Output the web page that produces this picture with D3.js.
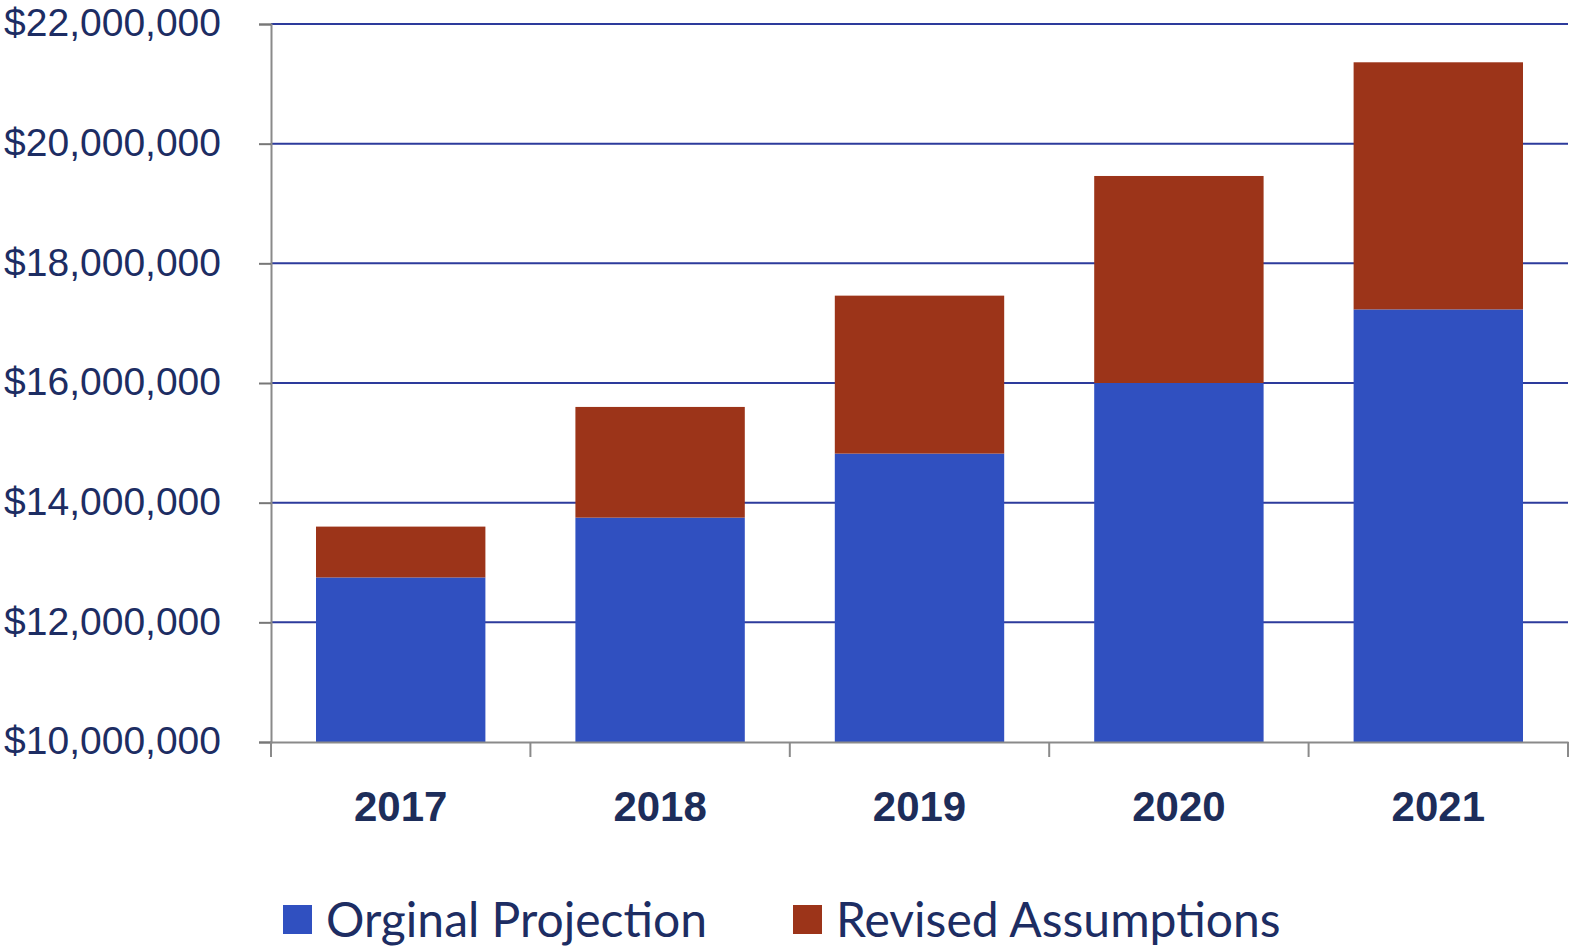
<!DOCTYPE html>
<html>
<head>
<meta charset="utf-8">
<script src="https://cdn.jsdelivr.net/npm/d3@7.9.0/dist/d3.min.js"></script>
<style>
  body { margin: 0; background: #fff; }
  svg { display: block; font-family: Lato, "Open Sans", sans-serif; }
</style>
</head>
<body>
<svg id="chart" width="1570" height="949"></svg>
<script>
// data
const years = ['2017', '2018', '2019', '2020', '2021'];
const original = [12750000, 13750000, 14820000, 16000000, 17230000];
const revised = [850000, 1850000, 2640000, 3460000, 4130000]; // added on top of original
const seriesNames = ['Orginal Projection', 'Revised Assumptions'];
const colors = ['#3050c0', '#9c3419'];
const yTicks = [10000000, 12000000, 14000000, 16000000, 18000000, 20000000, 22000000];

const svg = d3.select('#chart');
const plotLeft = 271, plotRight = 1568, plotTop = 24, plotBottom = 742;

const rows = years.map((yr, i) => ({ year: yr, original: original[i], revised: revised[i] }));
const stacked = d3.stack().keys(['original', 'revised'])(rows);

const x = d3.scaleBand().domain(years).range([plotLeft, plotRight]).paddingInner(0.347).paddingOuter(0.1735);
const xTicks = d3.scaleBand().domain(years).range([plotLeft, plotRight]);
const y = d3.scaleLinear().domain([10000000, 22000000]).range([plotBottom, plotTop]);
const clampY = v => y(Math.max(v, 10000000));

// gridlines
svg.append('g')
  .selectAll('line')
  .data(yTicks.slice(1))
  .join('line')
  .attr('x1', plotLeft).attr('x2', plotRight)
  .attr('y1', d => y(d)).attr('y2', d => y(d))
  .attr('stroke', '#2d3b9c')
  .attr('stroke-width', 2);

// bars (axis starts at $10M, so the lower part is cut off)
svg.append('g')
  .selectAll('g')
  .data(stacked)
  .join('g')
  .attr('fill', (d, i) => colors[i])
  .selectAll('rect')
  .data(d => d)
  .join('rect')
  .attr('x', d => x(d.data.year))
  .attr('width', x.bandwidth())
  .attr('y', d => clampY(d[1]))
  .attr('height', d => clampY(d[0]) - clampY(d[1]));

// y axis
const yAxis = svg.append('g')
  .attr('transform', `translate(${plotLeft},0)`)
  .call(d3.axisLeft(y).tickValues(yTicks).tickSize(12).tickPadding(38)
    .tickFormat(d => '$' + d3.format(',')(d)));
yAxis.select('.domain').attr('stroke', '#8a8a8a').attr('stroke-width', 2);
yAxis.selectAll('.tick line').attr('stroke', '#777').attr('stroke-width', 2);
yAxis.selectAll('.tick text')
  .attr('fill', '#1d2d63')
  .attr('font-size', 39)
  .attr('dy', '0.3em');

// x axis
const xAxis = svg.append('g')
  .attr('transform', `translate(0,${plotBottom})`)
  .call(d3.axisBottom(xTicks).tickSize(0).tickFormat(''));
xAxis.select('.domain').attr('stroke', '#8a8a8a').attr('stroke-width', 2);
xAxis.selectAll('.tick').remove();
const bounds = years.map(d => xTicks(d)).concat([plotRight]);
xAxis.selectAll('line.sep')
  .data(bounds)
  .join('line')
  .attr('class', 'sep')
  .attr('x1', d => d).attr('x2', d => d)
  .attr('y1', 0).attr('y2', 15)
  .attr('stroke', '#8a8a8a').attr('stroke-width', 2);
xAxis.selectAll('text.yr')
  .data(years)
  .join('text')
  .attr('class', 'yr')
  .attr('x', d => xTicks(d) + xTicks.bandwidth() / 2)
  .attr('y', 79)
  .attr('text-anchor', 'middle')
  .attr('font-size', 42)
  .attr('font-weight', 'bold')
  .attr('fill', '#1d2d5a')
  .text(d => d);

// legend
const legendX = [283, 793];
const legend = svg.append('g')
  .selectAll('g')
  .data(seriesNames)
  .join('g')
  .attr('transform', (d, i) => `translate(${legendX[i]},905)`);
legend.append('rect')
  .attr('width', 29).attr('height', 29)
  .attr('fill', (d, i) => colors[i]);
legend.append('text')
  .attr('x', 43).attr('y', 32)
  .attr('font-size', 48)
  .attr('fill', '#1d2d63')
  .text(d => d);
</script>
</body>
</html>
